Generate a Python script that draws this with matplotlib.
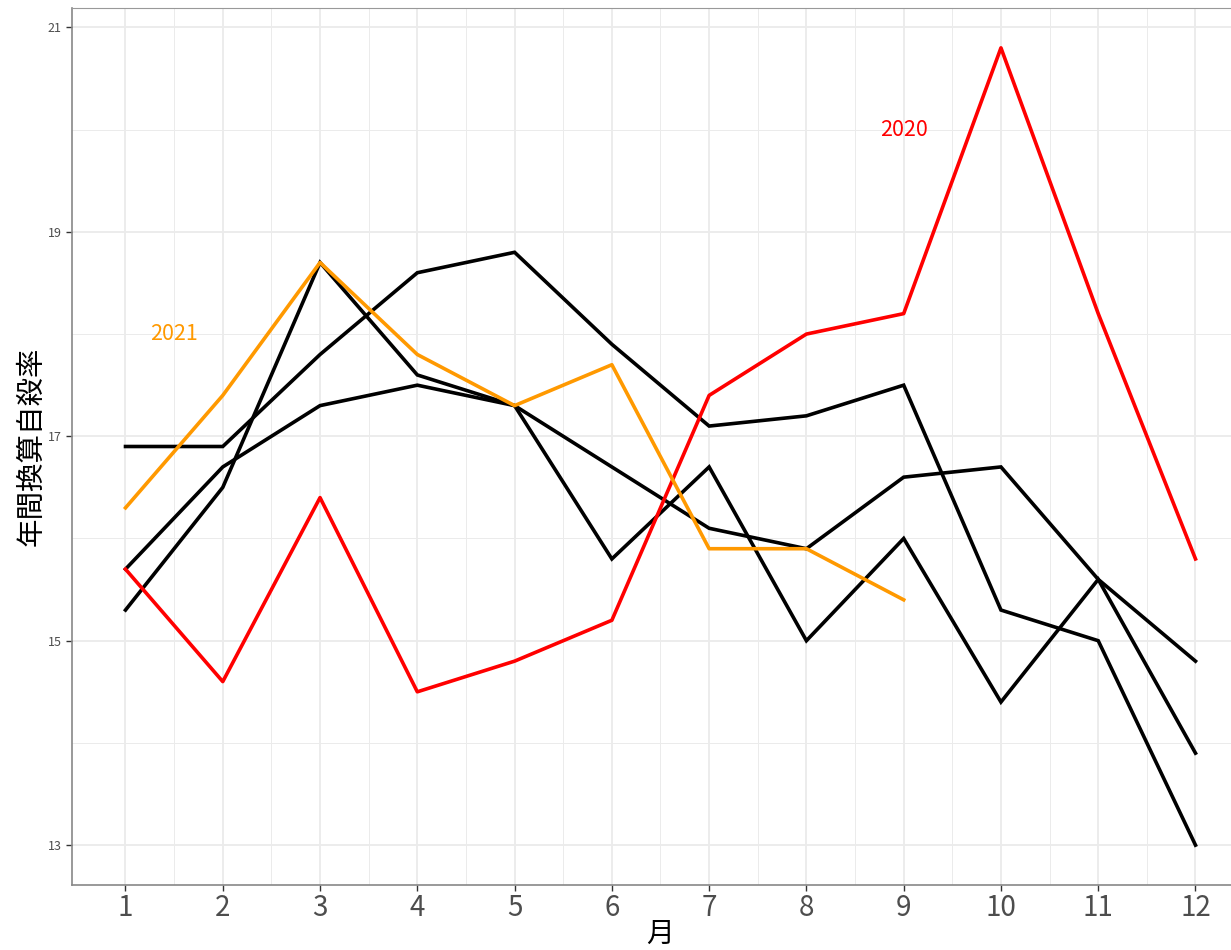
import numpy as np
import matplotlib
matplotlib.use("Agg")
import matplotlib.pyplot as plt

plt.rcParams['font.family'] = ['Noto Sans CJK JP', 'DejaVu Sans']

months = list(range(1, 13))
# past years (black)
year_a = [16.9, 16.9, 17.8, 18.6, 18.8, 17.9, 17.1, 17.2, 17.5, 15.3, 15.0, 13.0]
year_b = [15.7, 16.7, 17.3, 17.5, 17.3, 16.7, 16.1, 15.9, 16.6, 16.7, 15.6, 14.8]
year_c = [15.3, 16.5, 18.7, 17.6, 17.3, 15.8, 16.7, 15.0, 16.0, 14.4, 15.6, 13.9]
y2020 = [15.7, 14.6, 16.4, 14.5, 14.8, 15.2, 17.4, 18.0, 18.2, 20.8, 18.2, 15.8]
y2021 = [16.3, 17.4, 18.7, 17.8, 17.3, 17.7, 15.9, 15.9, 15.4]
x_ticks = months
y_ticks = [13, 15, 17, 19, 21]

fig = plt.figure(figsize=(12.31, 9.5), dpi=100)
ax = fig.add_axes([72/1231, 1-885/950, (1249-72)/1231, (885-8)/950])

lw = 2.6
for ys in (year_a, year_b, year_c):
    ax.plot(months, ys, color="black", lw=lw, solid_joinstyle="miter")
ax.plot(months, y2020, color="#FF0000", lw=lw)
ax.plot(months[:len(y2021)], y2021, color="#FF9900", lw=lw)

ax.text(1.5, 18.0, "2021", color="#FF9900", fontsize=15.5, ha="center", va="center")
ax.text(9.0, 20.0, "2020", color="#FF0000", fontsize=15.5, ha="center", va="center")

ax.set_xlim(0.45, 12.55)
ax.set_ylim(12.61, 21.19)
ax.set_xticks(x_ticks)
ax.set_xticks(np.arange(1.5, 12.5, 1), minor=True)
ax.set_yticks(y_ticks)
ax.set_yticks([14, 16, 18, 20], minor=True)
ax.set_xticklabels([str(m) for m in x_ticks], fontsize=20, color="#4D4D4D")
ax.set_yticklabels([str(v) for v in y_ticks], fontsize=9, color="#4D4D4D")
ax.tick_params(axis="both", which="major", length=4, width=1, color="#333333")
ax.tick_params(axis="both", which="minor", length=0)
ax.tick_params(axis="x", pad=2)

ax.grid(True, which="major", color="#EBEBEB", lw=1.3)
ax.grid(True, which="minor", color="#EBEBEB", lw=0.7)
ax.set_axisbelow(True)
for side in ("left", "bottom"):
    ax.spines[side].set_color("#888888")
    ax.spines[side].set_linewidth(1.2)
ax.spines["top"].set_color("#999999")
ax.spines["top"].set_linewidth(0.8)
ax.spines["right"].set_visible(False)

ax.set_xlabel("月", fontsize=20, labelpad=-3)
ax.set_ylabel("年間換算自殺率", fontsize=20.5, labelpad=1)

fig.savefig("out.png", dpi=100)
